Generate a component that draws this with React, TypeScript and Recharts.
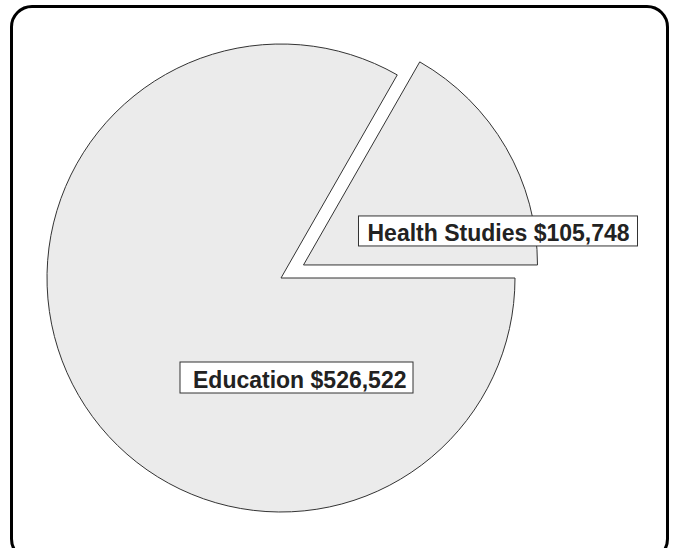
import React, { useEffect } from 'react';
import { PieChart, Pie, Cell } from 'recharts';

// slice data
const categories = ['Health Studies', 'Education'];
const amounts = [105748, 526522];

const pieData = categories.map((name, i) => ({ name, value: amounts[i] }));
const total = amounts.reduce((a, b) => a + b, 0);

const CX = 281;
const CY = 278;
const R = 234;
const EXPLODE = 26;

// label boxes relative to each slice's centre
const labelBoxes: Record<string, { x: number; y: number; w: number; h: number; tx: number; ty: number }> = {
  'Health Studies': { x: 55, y: -49, w: 279, h: 30, tx: 64, ty: -24 },
  Education: { x: -101, y: 84, w: 233, h: 31, tx: -88, ty: 110 },
};

const fmt = (v: number) => '$' + v.toLocaleString('en-US');

// health slice is pulled out along its mid angle
const healthMid = ((amounts[0] / total) * 360) / 2;
const hcx = CX + EXPLODE * Math.cos((healthMid * Math.PI) / 180);
const hcy = CY - EXPLODE * Math.sin((healthMid * Math.PI) / 180);

const makeLabel = (show: string) => (props: any) => {
  const { cx, cy, name, value } = props;
  if (name !== show) return null;
  const b = labelBoxes[name];
  return (
    <g>
      <rect x={cx + b.x} y={cy + b.y} width={b.w} height={b.h} fill="#fff" stroke="#333" strokeWidth={1} />
      <text
        x={cx + b.tx}
        y={cy + b.ty}
        fill="#222"
        fontSize={23}
        fontWeight="bold"
        fontFamily="'Liberation Sans', Arial, sans-serif"
      >
        {name} {fmt(value)}
      </text>
    </g>
  );
};

export default function App() {
  useEffect(() => {
    document.body.style.margin = '0';
  }, []);

  return (
    <div style={{ position: 'relative', width: 675, height: 548, background: '#fff', overflow: 'hidden' }}>
      <div
        style={{
          position: 'absolute',
          left: 10,
          top: 5,
          width: 653,
          height: 550,
          border: '3px solid #000',
          borderRadius: 22,
        }}
      />
      <div style={{ position: 'absolute', left: 0, top: 0 }}>
        <PieChart width={675} height={548} margin={{ top: 0, right: 0, bottom: 0, left: 0 }}>
          <Pie
            data={pieData}
            dataKey="value"
            nameKey="name"
            cx={CX}
            cy={CY}
            outerRadius={R}
            startAngle={0}
            endAngle={360}
            labelLine={false}
            label={makeLabel('Education')}
            isAnimationActive={false}
          >
            <Cell fill="none" stroke="none" />
            <Cell fill="#ebebeb" stroke="#333" strokeWidth={1} />
          </Pie>
          <Pie
            data={pieData}
            dataKey="value"
            nameKey="name"
            cx={hcx}
            cy={hcy}
            outerRadius={R}
            startAngle={0}
            endAngle={360}
            labelLine={false}
            label={makeLabel('Health Studies')}
            isAnimationActive={false}
          >
            <Cell fill="#ebebeb" stroke="#333" strokeWidth={1} />
            <Cell fill="none" stroke="none" />
          </Pie>
        </PieChart>
      </div>
    </div>
  );
}
